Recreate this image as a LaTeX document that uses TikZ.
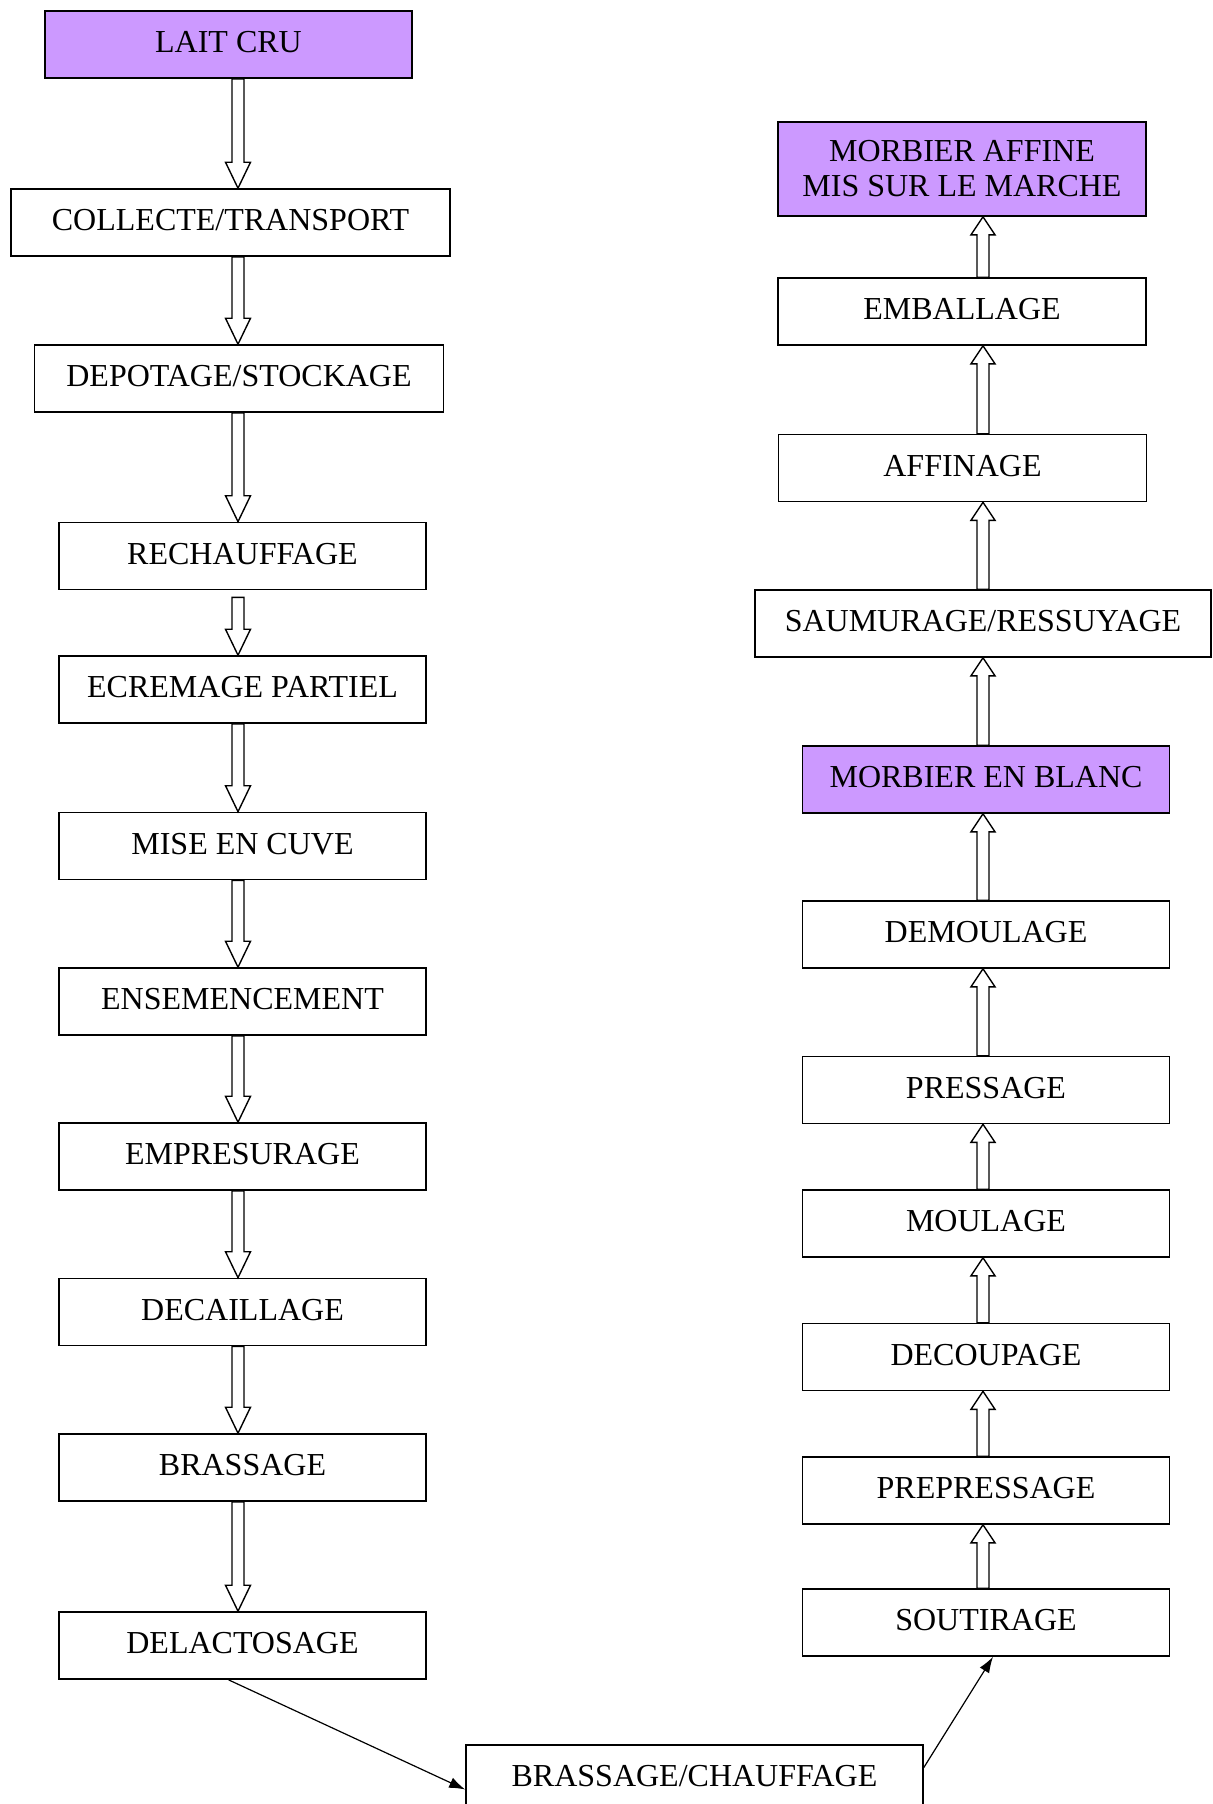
\documentclass[tikz,border=0pt]{standalone}
\usepackage{fontspec}
\setmainfont{Liberation Serif}
\usetikzlibrary{arrows.meta,calc}
\definecolor{lavande}{RGB}{204,153,255}
\tikzset{
  boite/.style={draw, line width=0.8pt, minimum width=183.5pt, minimum height=33.5pt, inner sep=0pt, align=center, font=\fontsize{16}{17.5}\selectfont},
  etape/.style={boite, text height=10.6pt, text depth=2.5pt},
  produit/.style={etape, fill=lavande},
  fleche/.style={draw, fill=white, line width=0.7pt, line join=miter},
  lien/.style={-{Latex[length=8pt,width=5.5pt]}, line width=0.6pt}
}
% grosse fleche creuse vers le bas / vers le haut
\newcommand{\flechebas}[2]{%
  \path[fleche] let \p1=(#1), \p2=(#2) in
    (\x1-3pt,\y1) -- (\x1-3pt,\y2+13pt) -- (\x1-6.25pt,\y2+13pt) -- (\x1,\y2)
    -- (\x1+6.25pt,\y2+13pt) -- (\x1+3pt,\y2+13pt) -- (\x1+3pt,\y1) -- cycle;}
\newcommand{\flechehaut}[2]{%
  \path[fleche] let \p1=(#1), \p2=(#2) in
    (\x1-3pt,\y1) -- (\x1-3pt,\y2-9pt) -- (\x1-6pt,\y2-9pt) -- (\x1,\y2)
    -- (\x1+6pt,\y2-9pt) -- (\x1+3pt,\y2-9pt) -- (\x1+3pt,\y1) -- cycle;}
\begin{document}
\begin{tikzpicture}[x=0.5pt,y=-0.5pt]
    \clip (0,0) rectangle (1212,1804);
    \coordinate (gauche) at (238,0);
    \coordinate (droite) at (983,0);

    % colonne gauche
    \node[produit] (lait) at (228.5,44.5) {LAIT CRU};
    \node[etape, minimum width=219.5pt] (collecte) at (230.5,222.5) {COLLECTE/TRANSPORT};
    \node[etape, minimum width=204.5pt] (depotage) at (239,378.5) {DEPOTAGE/STOCKAGE};
    \node[etape] (rechauffage) at (242.5,556) {RECHAUFFAGE};
    \node[etape] (ecremage) at (242.5,689.5) {ECREMAGE PARTIEL};
    \node[etape] (cuve) at (242.5,846) {MISE EN CUVE};
    \node[etape] (ensemencement) at (242.5,1001.5) {ENSEMENCEMENT};
    \node[etape] (empresurage) at (242.5,1156.5) {EMPRESURAGE};
    \node[etape] (decaillage) at (242.5,1312) {DECAILLAGE};
    \node[etape] (brassage) at (242.5,1467.5) {BRASSAGE};
    \node[etape] (delactosage) at (242.5,1645.5) {DELACTOSAGE};

    % en bas
    \node[etape, minimum width=228.5pt] (chauffage) at (694.5,1778.5) {BRASSAGE/CHAUFFAGE};

    % colonne droite
    \node[etape] (soutirage) at (986,1622.5) {SOUTIRAGE};
    \node[etape] (prepressage) at (986,1490.5) {PREPRESSAGE};
    \node[etape] (decoupage) at (986,1357) {DECOUPAGE};
    \node[etape] (moulage) at (986,1223.5) {MOULAGE};
    \node[etape] (pressage) at (986,1090) {PRESSAGE};
    \node[etape] (demoulage) at (986,934.5) {DEMOULAGE};
    \node[produit] (blanc) at (986,779.5) {MORBIER EN BLANC};
    \node[etape, minimum width=228pt] (saumurage) at (983,623.5) {SAUMURAGE/RESSUYAGE};
    \node[etape, minimum width=184pt] (affinage) at (962.5,468) {AFFINAGE};
    \node[etape, minimum width=184pt] (emballage) at (962,311.5) {EMBALLAGE};
    \node[boite, fill=lavande, minimum width=184pt, minimum height=47pt] (affine) at (962,169) {MORBIER AFFINE\\MIS SUR LE MARCHE};

    % fleches colonne gauche
    \flechebas{lait.south -| gauche}{collecte.north -| gauche}
    \flechebas{collecte.south -| gauche}{depotage.north -| gauche}
    \flechebas{depotage.south -| gauche}{rechauffage.north -| gauche}
    \flechebas{$(rechauffage.south -| gauche)+(0,7)$}{ecremage.north -| gauche}
    \flechebas{ecremage.south -| gauche}{cuve.north -| gauche}
    \flechebas{cuve.south -| gauche}{ensemencement.north -| gauche}
    \flechebas{ensemencement.south -| gauche}{empresurage.north -| gauche}
    \flechebas{empresurage.south -| gauche}{decaillage.north -| gauche}
    \flechebas{decaillage.south -| gauche}{brassage.north -| gauche}
    \flechebas{brassage.south -| gauche}{delactosage.north -| gauche}

    % fleches colonne droite
    \flechehaut{soutirage.north -| droite}{prepressage.south -| droite}
    \flechehaut{prepressage.north -| droite}{decoupage.south -| droite}
    \flechehaut{decoupage.north -| droite}{moulage.south -| droite}
    \flechehaut{moulage.north -| droite}{pressage.south -| droite}
    \flechehaut{pressage.north -| droite}{demoulage.south -| droite}
    \flechehaut{demoulage.north -| droite}{blanc.south -| droite}
    \flechehaut{blanc.north -| droite}{saumurage.south -| droite}
    \flechehaut{saumurage.north -| droite}{affinage.south -| droite}
    \flechehaut{affinage.north -| droite}{emballage.south -| droite}
    \flechehaut{emballage.north -| droite}{affine.south -| droite}

    % liens du bas
    \draw[lien] ($(delactosage.south)+(-14,0)$) -- ($(chauffage.west)+(0,11)$);
    \draw[lien] ($(chauffage.east)+(0,-11)$) -- ($(soutirage.south)+(7,0)$);
\end{tikzpicture}
\end{document}
